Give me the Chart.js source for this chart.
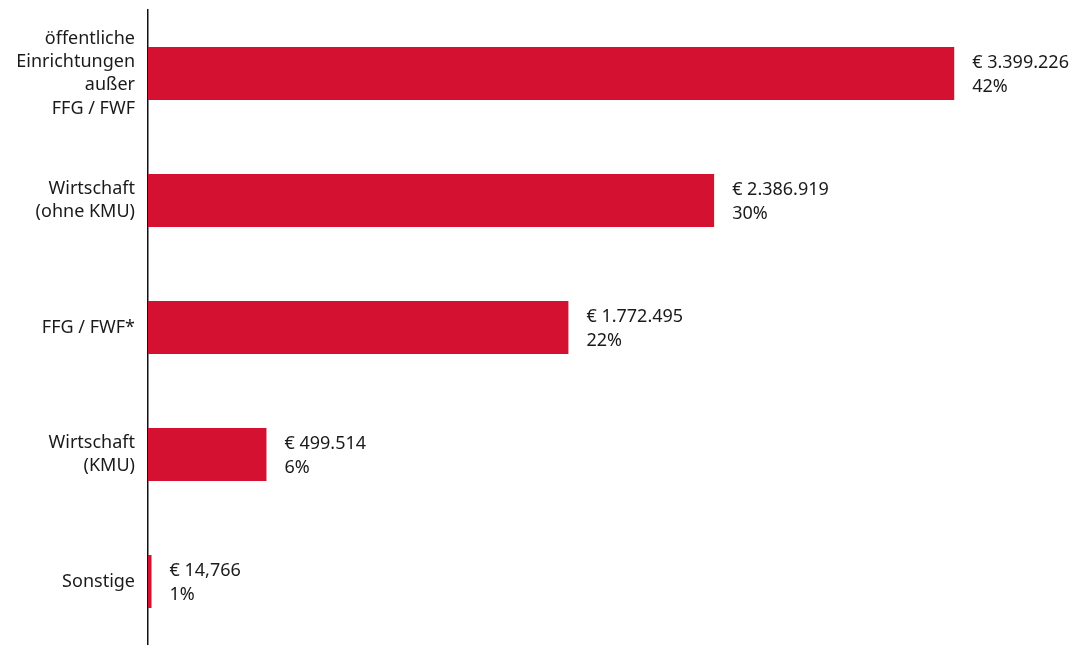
<!DOCTYPE html>
<html>
<head>
<meta charset="utf-8">
<script src="https://cdn.jsdelivr.net/npm/chart.js@4"></script>
<style>
  html, body { margin: 0; padding: 0; background: #fff; overflow: hidden; }
  canvas { display: block; }
</style>
</head>
<body>
<canvas id="c" width="1083" height="645" style="width:1083px;height:645px"></canvas>
<script>
const categories = [
  ["öffentliche", "Einrichtungen", "außer", "FFG / FWF"],
  ["Wirtschaft", "(ohne KMU)"],
  ["FFG / FWF*"],
  ["Wirtschaft", "(KMU)"],
  ["Sonstige"]
];
const values = [3399226, 2386919, 1772495, 499514, 14766];
const amountLabels = ["€ 3.399.226", "€ 2.386.919", "€ 1.772.495", "€ 499.514", "€ 14,766"];
const percentLabels = ["42%", "30%", "22%", "6%", "1%"];

const FONT = "'Noto Sans', sans-serif";
const TEXT = "#1a1a1a";
const RED = "#D41130";

const valueLabelPlugin = {
  id: 'valueLabels',
  afterDatasetsDraw(chart) {
    const ctx = chart.ctx;
    const meta = chart.getDatasetMeta(0);
    ctx.save();
    ctx.font = "18px " + FONT;
    ctx.fillStyle = TEXT;
    ctx.textAlign = 'left';
    ctx.textBaseline = 'middle';
    meta.data.forEach((bar, i) => {
      const x = bar.x + 18;
      ctx.fillText(amountLabels[i], x, bar.y - 11);
      ctx.fillText(percentLabels[i], x, bar.y + 13);
    });
    ctx.restore();
  }
};

new Chart(document.getElementById('c'), {
  type: 'bar',
  data: {
    labels: categories,
    datasets: [{
      data: values,
      backgroundColor: RED,
      borderWidth: 0,
      categoryPercentage: 1,
      barPercentage: 53 / 127
    }]
  },
  options: {
    indexAxis: 'y',
    responsive: false,
    maintainAspectRatio: false,
    animation: false,
    devicePixelRatio: 1,
    layout: { padding: { top: 10, right: 10, bottom: 0, left: 0 } },
    plugins: {
      legend: { display: false },
      tooltip: { enabled: false }
    },
    scales: {
      x: {
        display: false,
        min: 0,
        max: 3900000
      },
      y: {
        grid: { display: false, drawTicks: false },
        border: { display: true, color: '#111', width: 1.5 },
        ticks: {
          color: TEXT,
          padding: 13,
          font: { family: FONT, size: 18, lineHeight: 1.3 }
        },
        afterFit(scale) {
          scale.width = 148;
          scale.paddingTop = 0;
          scale.paddingBottom = 0;
        }
      }
    }
  },
  plugins: [valueLabelPlugin]
});
</script>
</body>
</html>
